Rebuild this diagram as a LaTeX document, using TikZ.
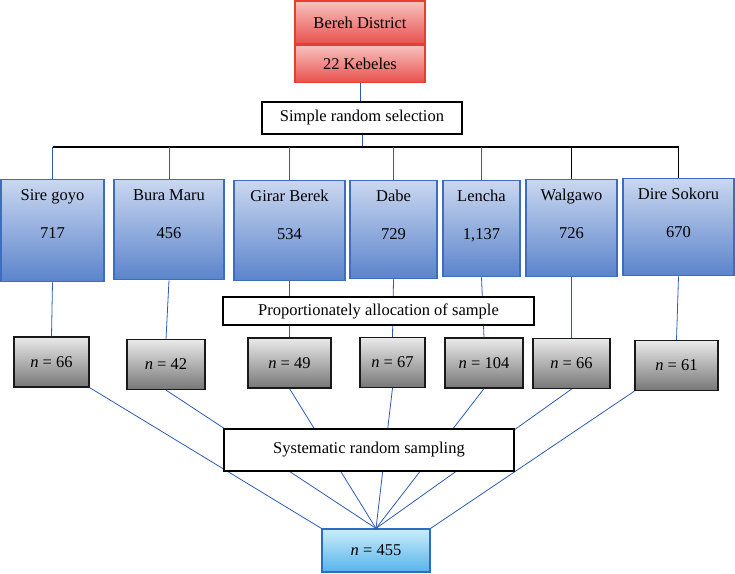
\documentclass[tikz,border=0pt]{standalone}
\usepackage{fontspec}
\setmainfont{Liberation Serif}
\usepackage{xcolor}
\usepackage{tikz}
\usetikzlibrary{positioning}

\definecolor{redtop}{HTML}{F8C2C0}
\definecolor{redbot}{HTML}{E8514D}
\definecolor{redline}{HTML}{E3402E}
\definecolor{bluetop}{HTML}{CAD7F0}
\definecolor{bluebot}{HTML}{5B84CB}
\definecolor{blueline}{HTML}{3E6DBF}
\definecolor{graytop}{HTML}{EAEAEA}
\definecolor{graybot}{HTML}{777777}
\definecolor{cyantop}{HTML}{CBECFB}
\definecolor{cyanbot}{HTML}{55B4EA}
\definecolor{cyanline}{HTML}{2C6CC3}
\definecolor{wireblue}{HTML}{2D5BB3}

\begin{document}
\begin{tikzpicture}[x=1pt,y=-1pt,font=\fontsize{16.5}{19}\selectfont,
    topbox/.style={draw=redline, line width=1.2pt, top color=redtop, bottom color=redbot, inner sep=0pt, minimum width=130pt},
    plainbox/.style={draw=black, line width=1.2pt, fill=white, inner sep=0pt},
    kebele/.style={draw=blueline, line width=1.3pt, top color=bluetop, bottom color=bluebot, inner sep=0pt, anchor=north},
    lbl/.style={inner sep=0pt, text height=11pt, text depth=3pt},
    samp/.style={draw=black!90, line width=1.2pt, top color=graytop, bottom color=graybot, inner sep=0pt, minimum height=50pt},
    total/.style={draw=cyanline, line width=1.2pt, top color=cyantop, bottom color=cyanbot, inner sep=0pt},
    wire/.style={draw=wireblue, line width=0.8pt}]
    \useasboundingbox (0,0) rectangle (735,573);

    \node[topbox, minimum height=43pt] (dist) at (360,22.5) {Bereh District};
    \node[topbox, minimum height=37pt, anchor=north] (keb) at (dist.south) {22 Kebeles};
    \node[plainbox, minimum width=200pt, minimum height=32pt] (simple) at (362,118) {Simple random selection};

    \node[kebele, minimum width=103pt, minimum height=102pt] (sire) at (52.5,179) {};
    \node[lbl, below=10pt of sire.north] (sire-t) {Sire goyo};
    \node[lbl, below=24pt of sire-t] (sire-n) {717};
    \node[kebele, minimum width=110pt, minimum height=100pt] (bura) at (169,179) {};
    \node[lbl, below=10pt of bura.north] (bura-t) {Bura Maru};
    \node[lbl, below=24pt of bura-t] (bura-n) {456};
    \node[kebele, minimum width=111pt, minimum height=100pt] (girar) at (289.5,180) {};
    \node[lbl, below=10pt of girar.north] (girar-t) {Girar Berek};
    \node[lbl, below=24pt of girar-t] (girar-n) {534};
    \node[kebele, minimum width=87pt, minimum height=98pt] (dabe) at (393.5,180) {};
    \node[lbl, below=10pt of dabe.north] (dabe-t) {Dabe};
    \node[lbl, below=24pt of dabe-t] (dabe-n) {729};
    \node[kebele, minimum width=77pt, minimum height=96pt] (lencha) at (481.5,180) {};
    \node[lbl, below=10pt of lencha.north] (lencha-t) {Lencha};
    \node[lbl, below=24pt of lencha-t] (lencha-n) {1,137};
    \node[kebele, minimum width=91pt, minimum height=97pt] (walga) at (571.5,179) {};
    \node[lbl, below=10pt of walga.north] (walga-t) {Walgawo};
    \node[lbl, below=24pt of walga-t] (walga-n) {726};
    \node[kebele, minimum width=111pt, minimum height=97pt] (dire) at (678.5,178) {};
    \node[lbl, below=10pt of dire.north] (dire-t) {Dire Sokoru};
    \node[lbl, below=24pt of dire-t] (dire-n) {670};

    \node[samp, minimum width=75pt] (s1) at (51.5,362) {\textit{n} = 66};
    \node[samp, minimum width=78pt] (s2) at (166,364.5) {\textit{n} = 42};
    \node[samp, minimum width=83pt] (s3) at (289.5,363) {\textit{n} = 49};
    \node[samp, minimum width=65pt] (s4) at (392.5,362.5) {\textit{n} = 67};
    \node[samp, minimum width=78pt] (s5) at (484,363) {\textit{n} = 104};
    \node[samp, minimum width=77pt] (s6) at (571.5,363.5) {\textit{n} = 66};
    \node[samp, minimum width=83pt] (s7) at (676.5,365.5) {\textit{n} = 61};

    \node[total, minimum width=108pt, minimum height=43pt] (all) at (376,550.5) {\textit{n} = 455};

    \coordinate (barL) at (52.5,147);
    \coordinate (barR) at (678.5,147);
    \draw[wire] (keb.south) -- (keb.south |- simple.north);
    \draw[wire] (simple.south) -- (simple.south |- barL);
    \draw[line width=1.1pt] (barL) -- (barR);
    \draw[wire] (sire.north) -- (barL);
    \draw[wire] (bura.north) -- (bura.north |- barL);
    \draw[wire] (girar.north) -- (girar.north |- barL);
    \draw[wire] (dabe.north) -- (dabe.north |- barL);
    \draw[wire] (lencha.north) -- (lencha.north |- barL);
    \draw[line width=0.9pt] (walga.north) -- (walga.north |- barL);
    \draw[line width=0.9pt] (dire.north) -- (barR);

    \draw[wire] (sire.south) -- (s1.north);
    \draw[wire] (bura.south) -- (s2.north);
    \draw[wire] (girar.south) -- (s3.north);
    \draw[wire] (dabe.south) -- (s4.north);
    \draw[wire] (lencha.south) -- (s5.north);
    \draw[wire] (walga.south) -- (s6.north);
    \draw[wire] (dire.south) -- (s7.north);

    \draw[wire] (s1.south east) -- (all.north west);
    \draw[wire] (s2.south) -- (all.north);
    \draw[wire] (s3.south) -- (all.north);
    \draw[wire] (s4.south) -- (all.north);
    \draw[wire] (s5.south) -- (all.north);
    \draw[wire] (s6.south) -- (all.north);
    \draw[wire] (s7.south west) -- (all.north east);

    \node[plainbox, minimum width=311pt, minimum height=28pt] (prop) at (378.5,311) {Proportionately allocation of sample};
    \node[plainbox, minimum width=290pt, minimum height=42pt] (sys) at (369,450) {Systematic random sampling};
\end{tikzpicture}
\end{document}
